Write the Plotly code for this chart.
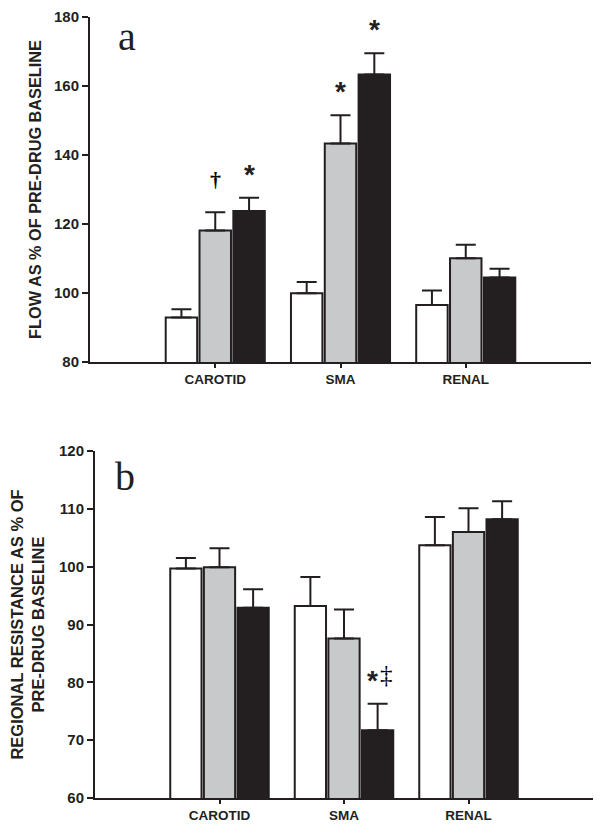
import plotly.graph_objects as go

categories = ["CAROTID", "SMA", "RENAL"]

# Panel a: flow as % of pre-drug baseline
flow_white = [92.9, 99.9, 96.5]
flow_white_err = [2.4, 3.3, 4.2]
flow_gray = [118.1, 143.3, 110.1]
flow_gray_err = [5.3, 8.2, 3.9]
flow_black = [123.8, 163.3, 104.5]
flow_black_err = [3.8, 6.2, 2.5]

# Panel b: regional resistance as % of pre-drug baseline
res_white = [99.7, 93.2, 103.7]
res_white_err = [1.8, 5.0, 4.9]
res_gray = [99.9, 87.6, 106.0]
res_gray_err = [3.3, 5.0, 4.1]
res_black = [92.9, 71.7, 108.2]
res_black_err = [3.2, 4.6, 3.1]

# significance marks: (panel, category index, series index, text)
marks = [
    ("a", 0, 1, "†"),
    ("a", 0, 2, "*"),
    ("a", 1, 1, "*"),
    ("a", 1, 2, "*"),
    ("b", 1, 2, "*‡"),
]

INK = "#231f20"
fills = ["#ffffff", "#c8c9cb", "#231f20"]
BARGAP = 0.19
BARGROUPGAP = 0.07
FONT = "Liberation Sans, Arial, sans-serif"
SERIF = "Liberation Serif, Times New Roman, serif"

# the page body adds an 8px margin, so the figure is laid out 8px smaller
OFF = 8
W, H = 602 - OFF, 833 - OFF


def px_x(p):
    return (p - OFF) / W


def px_y(p):
    return 1 - (p - OFF) / H


fig = go.Figure()

panels = {
    "a": ([flow_white, flow_gray, flow_black], [flow_white_err, flow_gray_err, flow_black_err], "x", "y"),
    "b": ([res_white, res_gray, res_black], [res_white_err, res_gray_err, res_black_err], "x2", "y2"),
}

for key, (vals, errs, xa, ya) in panels.items():
    for i in range(3):
        fig.add_trace(go.Bar(
            x=categories, y=vals[i], xaxis=xa, yaxis=ya,
            offsetgroup=str(i),
            marker=dict(color=fills[i], line=dict(color=INK, width=2)),
            error_y=dict(type="data", symmetric=False, array=errs[i],
                         arrayminus=[0] * len(errs[i]), color=INK,
                         thickness=2, width=10),
            showlegend=False,
        ))

slot = (1 - BARGAP) / 3
annotations = []


def star(xa, ya, x, y, xshift=0):
    return dict(x=x, y=y, xref=xa, yref=ya, text="*", showarrow=False,
                xanchor="center", yanchor="bottom", yshift=6, xshift=xshift,
                font=dict(family=FONT, size=28, color=INK, weight="bold"))


def dagger(xa, ya, x, y, sym, xshift=0, yshift=18, size=22, weight="bold"):
    return dict(x=x, y=y, xref=xa, yref=ya, text=sym, showarrow=False,
                xanchor="center", yanchor="bottom", yshift=yshift, xshift=xshift,
                font=dict(family=SERIF, size=size, color="#000000", weight=weight))


for panel, ci, si, txt in marks:
    vals, errs, xa, ya = panels[panel]
    xpos = ci + (si - 1) * slot
    ytop = vals[si][ci] + errs[si][ci]
    if txt == "*":
        annotations.append(star(xa, ya, xpos, ytop))
    elif txt == "†":
        annotations.append(dagger(xa, ya, xpos, ytop, "†"))
    else:  # "*‡"
        annotations.append(star(xa, ya, xpos, ytop, xshift=-5))
        annotations.append(dagger(xa, ya, xpos, ytop, "‡", xshift=9, yshift=14, size=25,
                                  weight="normal"))

annotations.append(dict(x=px_x(127), y=px_y(36.5), xref="paper", yref="paper", text="a",
                        showarrow=False, xanchor="center", yanchor="middle",
                        font=dict(family=SERIF, size=40, color=INK)))
annotations.append(dict(x=px_x(125), y=px_y(476), xref="paper", yref="paper", text="b",
                        showarrow=False, xanchor="center", yanchor="middle",
                        font=dict(family=SERIF, size=40, color=INK)))

axis_common = dict(showline=True, linewidth=2, linecolor=INK, ticks="outside",
                   tickwidth=2, tickcolor=INK, showgrid=False, zeroline=False,
                   automargin=False, ticklabeloverflow="allow")

fig.update_layout(
    width=W, height=H, paper_bgcolor="white", plot_bgcolor="white",
    margin=dict(l=0, r=0, t=0, b=0, autoexpand=False),
    barmode="group", bargap=BARGAP, bargroupgap=BARGROUPGAP,
    font=dict(family=FONT, color=INK),
    xaxis=dict(domain=[px_x(90), px_x(591)], anchor="y", type="category", range=[-1, 3],
               ticklen=4, tickfont=dict(size=13.5, family=FONT, weight="bold"), **axis_common),
    yaxis=dict(domain=[px_y(362), px_y(17)], anchor="x", range=[80, 180], dtick=20,
               ticklen=6, tickfont=dict(size=15, family=FONT, weight="bold"),
               title=dict(text="<b>FLOW AS % OF PRE-DRUG BASELINE</b>", font=dict(size=16.3),
                          standoff=8),
               **axis_common),
    xaxis2=dict(domain=[px_x(95), px_x(593)], anchor="y2", type="category", range=[-1, 3],
                ticklen=4, tickfont=dict(size=13.5, family=FONT, weight="bold"), **axis_common),
    yaxis2=dict(domain=[px_y(798), px_y(451)], anchor="x2", range=[60, 120], dtick=10,
                ticklen=6, tickfont=dict(size=15, family=FONT, weight="bold"),
                title=dict(text="<b>REGIONAL RESISTANCE AS % OF<br>PRE-DRUG BASELINE</b>",
                           font=dict(size=16.5), standoff=14),
                **axis_common),
    annotations=annotations,
)

fig.write_html("out.html")
